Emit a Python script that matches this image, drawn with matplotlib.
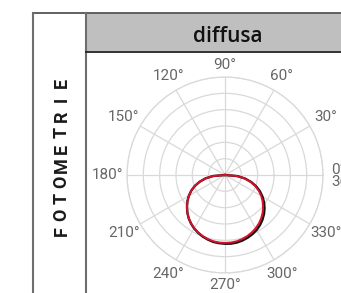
import numpy as np
import matplotlib
matplotlib.use("Agg")
import matplotlib.pyplot as plt
from matplotlib.patches import Rectangle
from matplotlib.lines import Line2D

# ---- data ----
title = "diffusa"
side_label = "FOTOMETRIE"
theta_deg = [180, 185, 190, 195, 200, 205, 210, 215, 220, 225, 230, 235, 240, 245, 250,
             255, 260, 265, 270, 275, 280, 285, 290, 295, 300, 305, 310, 315, 320, 325,
             330, 335, 340, 345, 350, 355, 360]
red_vals = [0.0, 0.75, 1.22, 1.61, 1.97, 2.28, 2.56, 2.81, 3.04, 3.26, 3.45, 3.62, 3.76, 3.88, 3.98,
            4.06, 4.12, 4.15, 4.16, 4.15, 4.12, 4.06, 3.98, 3.88, 3.76, 3.62, 3.45, 3.26, 3.04, 2.81,
            2.56, 2.28, 1.97, 1.61, 1.22, 0.75, 0.0]
black_vals = [0.0, 0.75, 1.22, 1.61, 1.97, 2.28, 2.56, 2.81, 3.04, 3.26, 3.46, 3.63, 3.78, 3.90, 4.01,
              4.09, 4.16, 4.19, 4.21, 4.22, 4.20, 4.15, 4.08, 3.99, 3.88, 3.74, 3.57, 3.38, 3.16, 2.92,
              2.65, 2.36, 2.03, 1.66, 1.25, 0.77, 0.0]
grid_angles = [0, 30, 60, 90, 120, 150, 180, 210, 240, 270, 300, 330]
angle_labels = ["0°\n360°", "30°", "60°", "90°", "120°", "150°", "180°", "210°", "240°", "270°", "300°", "330°"]
rings = [1, 2, 3, 4, 5, 6]

W, H = 341, 293
fig = plt.figure(figsize=(W / 100, H / 100), dpi=100)
fig.patch.set_facecolor("white")

def fx(px):
    return px / W

def fy(py):
    return 1 - py / H

# header band
fig.add_artist(Rectangle((fx(86), fy(51)), fx(341) - fx(86), fy(13) - fy(51),
                         transform=fig.transFigure, facecolor="#bfbfbf", edgecolor="none"))
# frame lines
frame_col = "#6e6e6e"
fig.add_artist(Line2D([fx(33), fx(341)], [fy(13), fy(13)], transform=fig.transFigure, color="#555555", lw=1.3))
fig.add_artist(Line2D([fx(33), fx(33)], [fy(13), fy(293)], transform=fig.transFigure, color=frame_col, lw=1.5))
fig.add_artist(Line2D([fx(86), fx(86)], [fy(13), fy(293)], transform=fig.transFigure, color=frame_col, lw=1.5))
fig.add_artist(Line2D([fx(86), fx(341)], [fy(51.5), fy(51.5)], transform=fig.transFigure, color="#222222", lw=1.3))

fig.text(fx(227.5), fy(42), title, ha="center", va="baseline", fontsize=15,
         family="Open Sans", fontweight="semibold", color="#111111")

# vertical spaced side label, one letter per slot
top_c, bot_c = 83, 231
n = len(side_label)
for i, ch in enumerate(side_label):
    yc = bot_c - i * (bot_c - top_c) / (n - 1)
    fig.text(fx(61.5), fy(yc), ch, ha="center", va="center", rotation=90,
             fontsize=13, family="Roboto", fontweight="bold", color="#1a1a1a")

# polar axes
cx, cy, R = 225, 175, 98
ax = fig.add_axes([fx(cx - R), fy(cy + R), 2 * R / W, 2 * R / H], projection="polar")
ax.set_facecolor("none")
ax.set_ylim(0, 6)
ax.set_yticks(rings)
ax.set_yticklabels([])
ax.set_xticks(np.deg2rad(grid_angles))
ax.set_xticklabels([])
ax.grid(True, color="#d9d9d9", lw=0.9)
ax.spines["polar"].set_color("#d9d9d9")
ax.spines["polar"].set_linewidth(0.9)

th = np.deg2rad(theta_deg)
ax.plot(th, black_vals, color="#111111", lw=1.7, zorder=3)
ax.plot(th, red_vals, color="#d8102a", lw=1.4, zorder=4)

lab_col = "#666666"
for a, lab in zip(grid_angles, angle_labels):
    t = np.deg2rad(a)
    if a == 0:
        fig.text(fx(331), fy(176), lab, ha="left", va="center", fontsize=11,
                 family="Roboto", color=lab_col, linespacing=0.8)
        continue
    r = 6.72 + 0.5 * abs(np.cos(t))
    ax.text(t, r, lab, ha="center", va="center", fontsize=11, family="Roboto",
            color=lab_col, clip_on=False)

fig.savefig("out.png", dpi=100, facecolor="white")
